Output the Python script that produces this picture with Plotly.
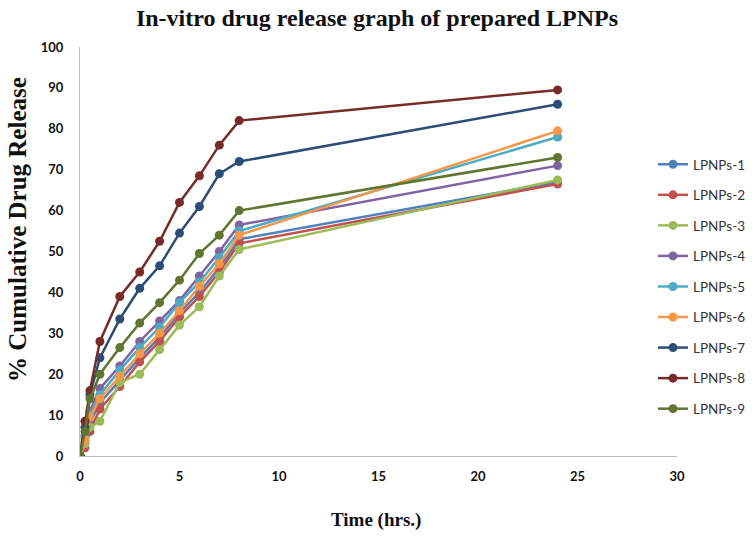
import plotly.graph_objects as go

time_hrs = [0, 0.25, 0.5, 1, 2, 3, 4, 5, 6, 7, 8, 24]
series_names = ["LPNPs-1", "LPNPs-2", "LPNPs-3", "LPNPs-4", "LPNPs-5",
                "LPNPs-6", "LPNPs-7", "LPNPs-8", "LPNPs-9"]
lpnps_1 = [0, 3.5, 8, 13, 18.5, 24, 29, 35, 40, 46, 53, 67]
lpnps_2 = [0, 2, 6, 11.5, 17, 23, 28, 34, 39, 45, 52, 66.5]
lpnps_3 = [0, 3, 7, 8.5, 18, 20, 26, 32, 36.5, 44, 50.5, 67.5]
lpnps_4 = [0, 5, 11, 16.5, 22, 28, 33, 38, 44, 50, 56.5, 71]
lpnps_5 = [0, 4.5, 10, 15, 21, 26.5, 31.5, 37.5, 42.5, 48.5, 55, 78]
lpnps_6 = [0, 4, 9.5, 14, 19.5, 25, 30, 35.5, 41.5, 47, 54, 79.5]
lpnps_7 = [0, 7, 15, 24, 33.5, 41, 46.5, 54.5, 61, 69, 72, 86]
lpnps_8 = [0, 8.5, 16, 28, 39, 45, 52.5, 62, 68.5, 76, 82, 89.5]
lpnps_9 = [0, 6, 14, 20, 26.5, 32.5, 37.5, 43, 49.5, 54, 60, 73]
all_series = [lpnps_1, lpnps_2, lpnps_3, lpnps_4, lpnps_5,
              lpnps_6, lpnps_7, lpnps_8, lpnps_9]
colors = ["#4F81BD", "#C0504D", "#9BBB59", "#8064A2", "#4BACC6",
          "#F79646", "#2C4D75", "#772C2A", "#5F7530"]
x_ticks = [0, 5, 10, 15, 20, 25, 30]
y_ticks = [0, 10, 20, 30, 40, 50, 60, 70, 80, 90, 100]

fig = go.Figure()
for name, vals, col in zip(series_names, all_series, colors):
    fig.add_trace(go.Scatter(
        x=time_hrs, y=vals, name=name, mode="lines+markers",
        line=dict(color=col, width=2.5),
        marker=dict(color=col, size=9),
        legendgroup=name,
    ))

serif = "Liberation Serif"
W, H = 754, 537
L, R, T, B = 80, 77, 47, 81
pw, ph = W - L - R, H - T - B

def px_x(p):
    return (p - L) / pw

def px_y(p):
    return (H - B - p) / ph

fig.update_layout(
    width=W, height=H,
    margin=dict(l=L, r=R, t=T, b=B, autoexpand=False),
    paper_bgcolor="white", plot_bgcolor="white",
    title=dict(text="<b>In-vitro drug release graph of prepared LPNPs</b>",
               font=dict(family=serif, size=24, color="#111"),
               x=0.5, xanchor="center", y=1 - 18 / H, yanchor="middle"),
    xaxis=dict(range=[0, 30], tickvals=x_ticks, showgrid=False, zeroline=False,
               showline=True, linecolor="#BFBFBF", linewidth=1, automargin=False,
               ticks="", ticklabelstandoff=8,
               tickfont=dict(family="Lato", size=13, color="#111", weight="bold")),
    yaxis=dict(range=[0, 100], tickvals=y_ticks, showgrid=False, zeroline=False,
               showline=True, linecolor="#BFBFBF", linewidth=1, automargin=False,
               ticks="", ticklabelstandoff=13,
               tickfont=dict(family="Lato", size=13, color="#111", weight="bold")),
    legend=dict(x=px_x(653), xanchor="left", y=px_y(149), yanchor="top",
                font=dict(family="Lato", size=13.5, color="#333"),
                tracegroupgap=10, bgcolor="rgba(0,0,0,0)"),
    annotations=[
        dict(text="<b>% Cumulative Drug Release</b>", textangle=-90,
             xref="paper", yref="paper", x=px_x(17), y=px_y(230),
             xanchor="center", yanchor="middle", showarrow=False,
             font=dict(family=serif, size=25, color="#111")),
        dict(text="<b>Time (hrs.)</b>",
             xref="paper", yref="paper", x=px_x(376), y=px_y(520),
             xanchor="center", yanchor="middle", showarrow=False,
             font=dict(family=serif, size=19, color="#111")),
    ],
)
fig.write_html("out.html", config={"displayModeBar": False},
               post_script="document.body.style.margin='0';")
